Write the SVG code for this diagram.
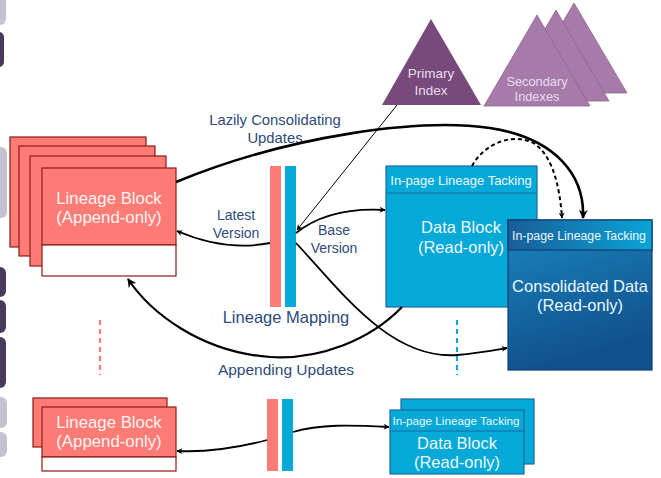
<svg xmlns="http://www.w3.org/2000/svg" width="661" height="478" viewBox="0 0 661 478">
<style>
text{font-family:"Liberation Sans",Arial,sans-serif}
.lb{fill:#fe7c75;stroke:#8e1c14;stroke-width:1.2}
.wb{fill:#ffffff;stroke:#8e1c14;stroke-width:1.2}
.wt{fill:#fff3f2;font-size:16.8px;text-anchor:middle}
.db{fill:#04a9d7;stroke:#1c6ca0;stroke-width:1.2}
.dt{fill:#eaf8fd;text-anchor:middle}
.lab{fill:#2e4a7b;text-anchor:middle}
.c{fill:none;stroke:#000;stroke-width:1.8}
.pk{fill:#fe7c75}
.bl{fill:#04a9d7}
.lg{fill:#c5c1d1}
.dp{fill:#473a5c}
</style>
<defs>
<marker id="ah" viewBox="0 0 10 10" refX="9" refY="5" markerWidth="6" markerHeight="6" orient="auto" markerUnits="userSpaceOnUse">
<path d="M0,0 L10,5 L0,10 L3,5 Z" fill="#000"/>
</marker>
<marker id="ah2" viewBox="0 0 10 10" refX="9" refY="5" markerWidth="9" markerHeight="9" orient="auto" markerUnits="userSpaceOnUse">
<path d="M0,0 L10,5 L0,10 L3,5 Z" fill="#000"/>
</marker>
<linearGradient id="cg" x1="0" y1="0" x2="0.3" y2="1">
<stop offset="0" stop-color="#1a86c0"/>
<stop offset="1" stop-color="#10508c"/>
</linearGradient>
<linearGradient id="hg" x1="0" y1="0" x2="1" y2="0">
<stop offset="0" stop-color="#1a5d98"/>
<stop offset="1" stop-color="#0aa4d6"/>
</linearGradient>
</defs>

<g id="edge-fragments">
<rect class="lg" x="-8" y="-4" width="14" height="29" rx="6"/>
<rect class="dp" x="-8" y="32" width="12" height="35" rx="5"/>
<rect class="lg" x="-8" y="147" width="15" height="71" rx="6"/>
<rect class="dp" x="-8" y="267" width="14" height="30" rx="6"/>
<rect class="dp" x="-8" y="300" width="14" height="33" rx="6"/>
<rect class="dp" x="-8" y="337" width="14" height="51" rx="6"/>
<rect class="lg" x="-8" y="397" width="15" height="31" rx="6"/>
<rect class="lg" x="-8" y="432" width="15" height="25" rx="6"/>
</g>

<g id="primary-index">
<polygon points="431,19 382,105 481,105" fill="#774a7b"/>
<text x="431" y="78" fill="#e6dced" font-size="13.5" text-anchor="middle">Primary</text>
<text x="431" y="95" fill="#e6dced" font-size="13.5" text-anchor="middle">Index</text>
</g>

<g id="secondary-indexes">
<polygon points="574,3 521,93 627,93" fill="#a67ba9" stroke="#8f6592" stroke-width="0.8"/>
<polygon points="556,10 503,101 609,101" fill="#a67ba9" stroke="#8f6592" stroke-width="0.8"/>
<polygon points="537,15 484,106 590,106" fill="#a67ba9" stroke="#8f6592" stroke-width="0.8"/>
<text x="537" y="86" fill="#e6dced" font-size="12.8" text-anchor="middle">Secondary</text>
<text x="537" y="101" fill="#e6dced" font-size="12.8" text-anchor="middle">Indexes</text>
</g>

<g id="lineage-block-top">
<rect class="lb" x="10" y="137" width="136" height="110"/>
<rect class="lb" x="19" y="146" width="136" height="110"/>
<rect class="lb" x="30" y="156" width="136" height="110"/>
<rect class="lb" x="42" y="168" width="134" height="77"/>
<rect class="wb" x="42" y="245" width="134" height="31"/>
<text class="wt" x="109" y="204">Lineage Block</text>
<text class="wt" x="109" y="223">(Append-only)</text>
</g>

<g id="lineage-block-bottom">
<rect class="lb" x="33" y="398" width="134" height="49"/>
<rect class="lb" x="42" y="407" width="134" height="50"/>
<rect class="wb" x="42" y="457" width="134" height="14"/>
<text class="wt" x="109" y="428">Lineage Block</text>
<text class="wt" x="109" y="447">(Append-only)</text>
</g>

<g id="lineage-mapping-top">
<rect class="pk" x="270" y="166" width="11" height="141"/>
<rect class="bl" x="285" y="166" width="11" height="141"/>
<text class="lab" x="286" y="323" style="font-size:16.5px">Lineage Mapping</text>
</g>

<g id="lineage-mapping-bottom">
<rect class="pk" x="267" y="399" width="11" height="72"/>
<rect class="bl" x="282" y="399" width="11" height="72"/>
</g>

<g id="data-block-top">
<rect class="db" x="386" y="166" width="151" height="141"/>
<line x1="386" y1="193" x2="537" y2="193" stroke="#1c6ca0" stroke-width="1.2"/>
<text class="dt" x="461" y="185" font-size="13">In-page Lineage Tacking</text>
<text class="dt" x="461" y="233" font-size="16.5">Data Block</text>
<text class="dt" x="461" y="253" font-size="16.5">(Read-only)</text>
</g>

<g id="consolidated-data">
<rect x="508" y="220" width="144" height="150" fill="url(#cg)" stroke="#0e3f72" stroke-width="1.2"/>
<rect x="508" y="220" width="144" height="30" fill="url(#hg)" stroke="#0e3f72" stroke-width="1.2"/>
<text class="dt" x="579" y="240" font-size="12.3">In-page Lineage Tacking</text>
<text class="dt" x="580" y="292" font-size="16.5">Consolidated Data</text>
<text class="dt" x="580" y="311" font-size="16.5">(Read-only)</text>
</g>

<g id="data-block-bottom">
<rect class="db" x="401" y="399" width="133" height="65"/>
<rect class="db" x="390" y="410" width="134" height="64"/>
<line x1="390" y1="431" x2="524" y2="431" stroke="#1c6ca0" stroke-width="1.2"/>
<text class="dt" x="456" y="425" font-size="11.7">In-page Lineage Tacking</text>
<text class="dt" x="457" y="449" font-size="16.5">Data Block</text>
<text class="dt" x="457" y="468" font-size="16.5">(Read-only)</text>
</g>

<g id="labels">
<text class="lab" x="275" y="125" style="font-size:14.8px">Lazily Consolidating</text>
<text class="lab" x="275" y="143" style="font-size:14.8px">Updates</text>
<text class="lab" x="236" y="220" style="font-size:14px">Latest</text>
<text class="lab" x="236" y="238" style="font-size:14px">Version</text>
<text class="lab" x="334" y="235" style="font-size:14px">Base</text>
<text class="lab" x="334" y="253" style="font-size:14px">Version</text>
<text class="lab" x="286" y="375" style="font-size:15.5px">Appending Updates</text>
</g>

<g id="connectors">
<line x1="100" y1="320" x2="100" y2="375" stroke="#fe7c75" stroke-width="2.2" stroke-dasharray="5,4"/>
<line x1="457" y1="320" x2="457" y2="375" stroke="#0aa8d8" stroke-width="2.2" stroke-dasharray="5,4"/>
<path d="M397,105 L297,230" fill="none" stroke="#000" stroke-width="1" marker-end="url(#ah)"/>
<path d="M176,182 C290,135 420,118 490,128 C555,138 585,175 583,218" fill="none" stroke="#000" stroke-width="2.6" marker-end="url(#ah2)"/>
<path d="M472,166 C485,142 515,132 535,144 C554,158 560,190 562,218" fill="none" stroke="#000" stroke-width="2" stroke-dasharray="4,3" marker-end="url(#ah)"/>
<path class="c" d="M296,233 C320,214 350,208 385,210" marker-end="url(#ah)"/>
<path class="c" d="M270,243 C235,250 205,243 177,231" marker-end="url(#ah)"/>
<path class="c" d="M296,243 C340,290 390,360 457,355 C480,353 495,350 507,348" marker-end="url(#ah)"/>
<path d="M402,307 C370,340 320,360 270,357 C200,352 150,312 128,279" fill="none" stroke="#000" stroke-width="2.2" marker-end="url(#ah2)"/>
<path class="c" d="M267,440 C230,450 200,452 177,451" marker-end="url(#ah)"/>
<path class="c" d="M293,432 C320,424 350,425 389,427" marker-end="url(#ah)"/>
</g>
</svg>
